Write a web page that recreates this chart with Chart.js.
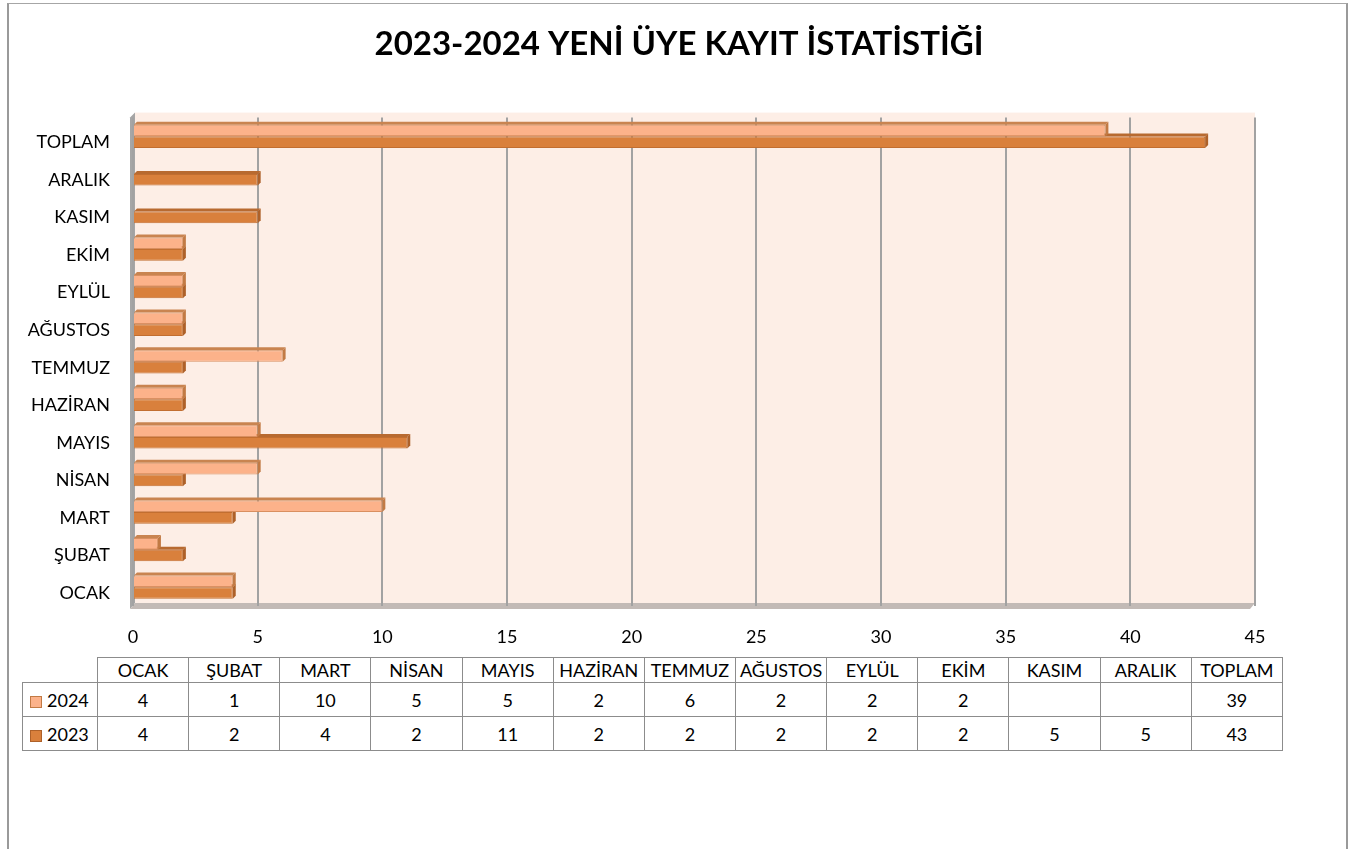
<!DOCTYPE html>
<html lang="tr">
<head>
<meta charset="utf-8">
<title>2023-2024 Yeni Üye Kayıt İstatistiği</title>
<script src="https://cdn.jsdelivr.net/npm/chart.js@4.4.1/dist/chart.umd.min.js"></script>
<style>
  html, body { margin: 0; padding: 0; background: #fff; }
  body { width: 1349px; height: 849px; overflow: hidden; position: relative; font-family: Lato, "Open Sans", sans-serif; }
  #frame { position: absolute; left: 7px; top: 3px; width: 1337px; height: 900px; border: 1px solid #a6a6a6; border-left: 2px solid #9a9a9a; border-right: 2px solid #9a9a9a; }
  #wrap { position: absolute; left: 0; top: 0; width: 1349px; height: 651px; }
  #dataTable { position: absolute; left: 22px; top: 657px; border-collapse: collapse; table-layout: fixed; width: 1261px; font-size: 18px; color: #000; }
  #dataTable td { border: 1px solid #8c8c8c; text-align: center; padding: 0; white-space: nowrap; overflow: hidden; }
  #dataTable tr.head td { height: 24px; }
  #dataTable tr.row td { height: 33px; }
  #dataTable td.empty { border: none; }
  #dataTable td.leg { text-align: left; padding-left: 7px; }
  .sw { display: inline-block; width: 10px; height: 10px; margin-right: 5px; vertical-align: -1px; }
</style>
</head>
<body>
<div id="frame"></div>
<div id="wrap"><canvas id="kayitChart" width="1349" height="651"></canvas></div>
<table id="dataTable"></table>
<script>
// Setup block
const months = ['OCAK', 'ŞUBAT', 'MART', 'NİSAN', 'MAYIS', 'HAZİRAN', 'TEMMUZ', 'AĞUSTOS', 'EYLÜL', 'EKİM', 'KASIM', 'ARALIK', 'TOPLAM'];
const seriesNames = ['2024', '2023'];
const values2024 = [4, 1, 10, 5, 5, 2, 6, 2, 2, 2, null, null, 39];
const values2023 = [4, 2, 4, 2, 11, 2, 2, 2, 2, 2, 5, 5, 43];
const xTicks = [0, 5, 10, 15, 20, 25, 30, 35, 40, 45];

const FONT = 'Lato, "Open Sans", sans-serif';
const frontColors = ['#FCB28A', '#D9803C'];
const topColors = ['#C98450', '#B86A30'];
const sideColors = ['#C27A44', '#AE6129'];

// Back wall, left wall and floor plugin block
const wallsPlugin = {
    id: 'walls',
    beforeDraw(chart) {
        const {ctx, chartArea: a} = chart;
        ctx.save();
        ctx.fillStyle = '#FDEEE6';
        ctx.fillRect(a.left + 2, a.top - 5, a.right - a.left - 2, a.bottom - a.top + 2);
        // left wall
        ctx.fillStyle = '#A6A6A6';
        ctx.beginPath();
        ctx.moveTo(a.left - 3, a.top);
        ctx.lineTo(a.left + 2, a.top - 5);
        ctx.lineTo(a.left + 2, a.bottom - 3);
        ctx.lineTo(a.left - 3, a.bottom + 3);
        ctx.closePath();
        ctx.fill();
        // floor
        ctx.fillStyle = '#C2BAB6';
        ctx.beginPath();
        ctx.moveTo(a.left - 3, a.bottom + 3);
        ctx.lineTo(a.left + 2, a.bottom - 3);
        ctx.lineTo(a.right, a.bottom - 3);
        ctx.lineTo(a.right - 5, a.bottom + 3);
        ctx.closePath();
        ctx.fill();
        ctx.restore();
    }
};

// 3D bar faces plugin block
const bar3dPlugin = {
    id: 'bar3d',
    afterDatasetDraw(chart, args) {
        const ctx = chart.ctx;
        const i = args.index;
        const D = 3;
        const data = chart.data.datasets[i].data;
        ctx.save();
        args.meta.data.forEach((bar, j) => {
            if (data[j] == null) return;
            const p = bar.getProps(['x', 'y', 'base', 'height'], true);
            const top = p.y - p.height / 2;
            const bot = p.y + p.height / 2;
            ctx.fillStyle = topColors[i];
            ctx.beginPath();
            ctx.moveTo(p.base, top);
            ctx.lineTo(p.base + D, top - D);
            ctx.lineTo(p.x + D, top - D);
            ctx.lineTo(p.x, top);
            ctx.closePath();
            ctx.fill();
            ctx.fillStyle = sideColors[i];
            ctx.beginPath();
            ctx.moveTo(p.x, top);
            ctx.lineTo(p.x + D, top - D);
            ctx.lineTo(p.x + D, bot - D);
            ctx.lineTo(p.x, bot);
            ctx.closePath();
            ctx.fill();
        });
        ctx.restore();
    }
};

// Config block
const kayitConfig = {
    type: 'bar',
    data: {
        labels: months,
        datasets: [{
            label: seriesNames[0],
            data: values2024,
            backgroundColor: frontColors[0],
            borderColor: '#D98F60',
            borderWidth: 1
        }, {
            label: seriesNames[1],
            data: values2023,
            backgroundColor: frontColors[1],
            borderColor: '#C26E30',
            borderWidth: 1
        }]
    },
    options: {
        indexAxis: 'y',
        responsive: false,
        animation: false,
        events: [],
        categoryPercentage: 0.62,
        barPercentage: 1,
        layout: { padding: { left: 9, right: 0, top: 0, bottom: 0 } },
        scales: {
            y: {
                reverse: true,
                afterFit(scale) { scale.width = 124; },
                grid: { display: false, drawTicks: false },
                border: { display: false },
                ticks: { padding: 23, labelOffset: 6, color: '#000', font: { family: FONT, size: 18 } }
            },
            // empty right-hand spacer so the title stays centred on the page
            yRight: {
                type: 'category',
                position: 'right',
                afterFit(scale) { scale.width = 94; },
                grid: { display: false, drawTicks: false },
                border: { display: false },
                ticks: { display: false }
            },
            x: {
                min: 0,
                max: 45,
                afterFit(scale) { scale.height = 45; },
                afterBuildTicks(scale) { scale.ticks = xTicks.map(v => ({ value: v })); },
                grid: { color: '#A2A2A2', lineWidth: 2, drawTicks: false },
                border: { display: false },
                ticks: { padding: 20, color: '#000', font: { family: FONT, size: 18 } }
            }
        },
        plugins: {
            legend: { display: false },
            tooltip: { enabled: false },
            title: {
                display: true,
                text: '2023-2024 YENİ ÜYE KAYIT İSTATİSTİĞİ',
                color: '#000',
                font: { family: FONT, size: 33, weight: 'bold' },
                padding: { top: 25, bottom: 53 }
            }
        }
    },
    plugins: [wallsPlugin, bar3dPlugin]
};

// render / init block
const kayitChart = new Chart(document.getElementById('kayitChart'), kayitConfig);

// Data table below the chart
const table = document.getElementById('dataTable');
let html = '<colgroup><col style="width:75px">' + months.map(() => '<col>').join('') + '</colgroup>';
html += '<tr class="head"><td class="empty"></td>' + months.map(m => '<td>' + m + '</td>').join('') + '</tr>';
[values2024, values2023].forEach((vals, i) => {
    html += '<tr class="row"><td class="leg"><span class="sw" style="background:' + frontColors[i] +
        ';border:1px solid ' + sideColors[i] + '"></span>' + seriesNames[i] + '</td>' +
        vals.map(v => '<td>' + (v == null ? '' : v) + '</td>').join('') + '</tr>';
});
table.innerHTML = html;
</script>
</body>
</html>
